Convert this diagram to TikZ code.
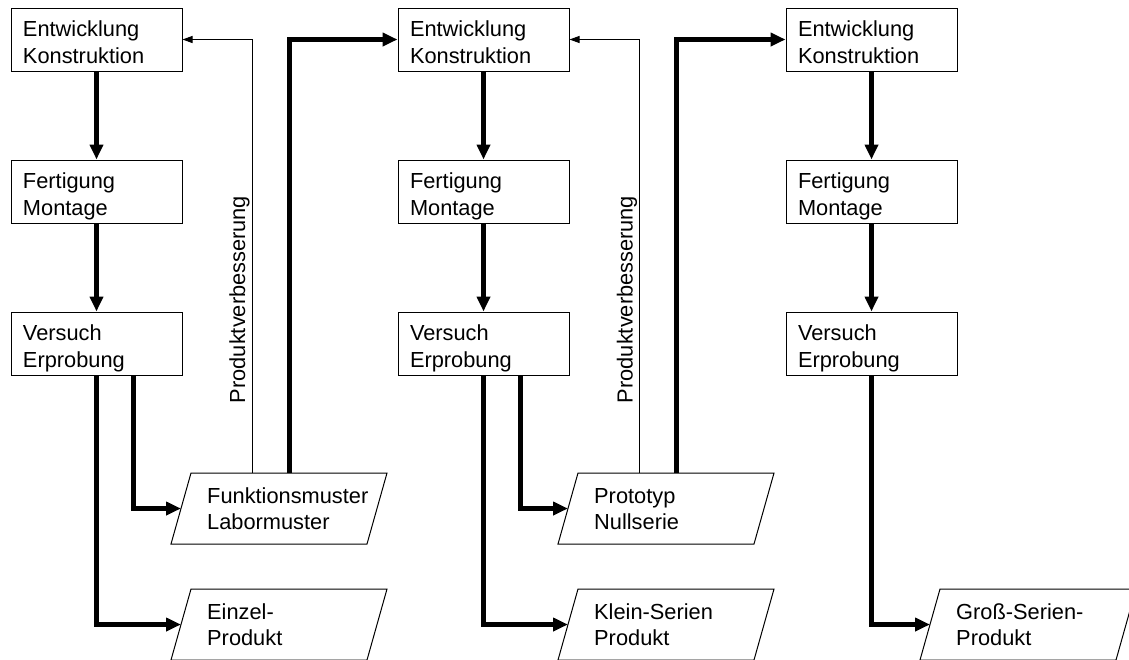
\documentclass[tikz,border=0pt]{standalone}
\usepackage{fontspec}
\setmainfont{Liberation Sans}
\usetikzlibrary{arrows.meta}

% parallelogram-shaped result box: name, top-left x, top y, text
\newcommand\prodbox[4]{%
  \draw[boxline] (#2,#3) -- (#2+196,#3) -- (#2+176,#3+71) -- (#2-20,#3+71) -- cycle;
  \coordinate (#1-in) at (#2-10,#3+35.5);
  \coordinate (#1-fb) at (#2+61,#3);
  \coordinate (#1-fw) at (#2+98.5,#3);
  \node[prodtext] (#1) at (#2+16,#3+14) {#4};
}

\begin{document}
\begin{tikzpicture}[x=1pt,y=-1pt,
  font=\fontsize{21.8}{26.5}\selectfont,
  boxline/.style={draw=black,line width=1pt},
  stepbox/.style={boxline,rectangle,text width=147pt,inner xsep=12pt,inner ysep=6pt,
    text height=22.5pt,text depth=28.5pt,align=left},
  prodtext/.style={anchor=north west,inner sep=0pt,text width=175pt,align=left,text height=16pt},
  flow/.style={line width=4.2pt,-{Triangle[length=15pt,width=13pt]}},
  feedback/.style={line width=1pt,-{Triangle[length=10pt,width=7pt]}},
  vlabel/.style={rotate=90,anchor=base,inner sep=0pt}]

\useasboundingbox (0,0) rectangle (1129,659);

% three development cycles
\node[stepbox] (E1) at (96.5,39.5)  {Entwicklung\\Konstruktion};
\node[stepbox] (F1) at (96.5,191.5) {Fertigung\\Montage};
\node[stepbox] (V1) at (96.5,343.5) {Versuch\\Erprobung};

\node[stepbox] (E2) at (483.5,39.5)  {Entwicklung\\Konstruktion};
\node[stepbox] (F2) at (483.5,191.5) {Fertigung\\Montage};
\node[stepbox] (V2) at (483.5,343.5) {Versuch\\Erprobung};

\node[stepbox] (E3) at (871.5,39.5)  {Entwicklung\\Konstruktion};
\node[stepbox] (F3) at (871.5,191.5) {Fertigung\\Montage};
\node[stepbox] (V3) at (871.5,343.5) {Versuch\\Erprobung};

% results
\prodbox{P1}{191}{473}{Funktionsmuster\\Labormuster}
\prodbox{P2}{578}{473}{Prototyp\\Nullserie}
\prodbox{R1}{191}{589}{Einzel-\\Produkt}
\prodbox{R2}{578}{589}{Klein-Serien\\Produkt}
\prodbox{R3}{940}{589}{Groß-Serien-\\Produkt}

% flow within each cycle
\draw[flow] (E1) -- (F1);
\draw[flow] (F1) -- (V1);
\draw[flow] (E2) -- (F2);
\draw[flow] (F2) -- (V2);
\draw[flow] (E3) -- (F3);
\draw[flow] (F3) -- (V3);

% outputs of the test stage
\draw[flow] (V1.south) |- (R1-in);
\draw[flow] ([xshift=37pt]V1.south) |- (P1-in);
\draw[flow] (V2.south) |- (R2-in);
\draw[flow] ([xshift=37pt]V2.south) |- (P2-in);
\draw[flow] (V3.south) |- (R3-in);

% feedback and hand-over to the next cycle
\draw[feedback] (P1-fb) |- (E1.east);
\draw[flow] (P1-fw) |- (E2.west);
\draw[feedback] (P2-fb) |- (E2.east);
\draw[flow] (P2-fw) |- (E3.west);

\node[vlabel] (L1) at (245,299.5) {Produktverbesserung};
\node[vlabel] (L2) at (632.5,299.5) {Produktverbesserung};
\end{tikzpicture}
\end{document}
